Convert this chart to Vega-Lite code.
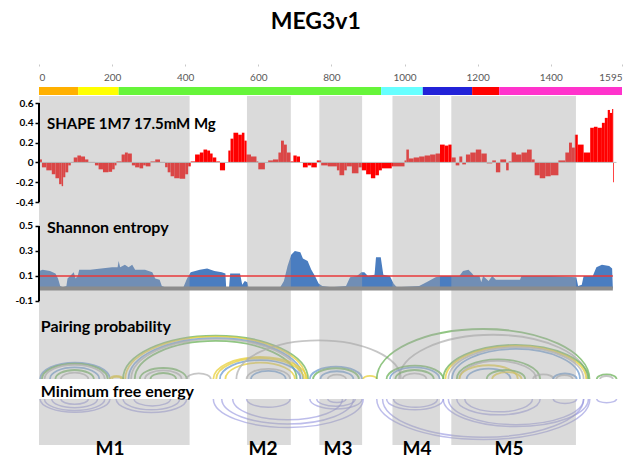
{
  "$schema": "https://vega.github.io/schema/vega-lite/v6.json",
  "background": "white",
  "padding": {"left": 9, "top": 11, "right": 5, "bottom": 0},
  "title": {"text": "MEG3v1", "font": "Lato", "fontSize": 23, "fontWeight": "bold", "color": "#000000", "anchor": "middle", "frame": "bounds", "offset": 27},
  "spacing": 0,
  "bounds": "flush",
  "config": {
    "view": {"stroke": null},
    "font": "Lato",
    "axisY": {"minExtent": 30, "maxExtent": 30, "labelOverlap": false, "zindex": 2}
  },
  "datasets": {
    "bands": [
      {"s": 0, "e": 412}, {"s": 569, "e": 689}, {"s": 767, "e": 884}, {"s": 967, "e": 1097}, {"s": 1128, "e": 1469}
    ],
    "segments": [
      {"s": 0, "e": 107, "c": "#ffb000"}, {"s": 107, "e": 218, "c": "#ffff00"}, {"s": 218, "e": 936, "c": "#66f53a"},
      {"s": 936, "e": 1050, "c": "#66ffff"}, {"s": 1050, "e": 1185, "c": "#2222d8"}, {"s": 1185, "e": 1259, "c": "#ff0000"},
      {"s": 1259, "e": 1595, "c": "#ff33cc"}
    ],
    "shape": [
      {"s":0,"e":8,"v":0.03},{"s":8,"e":20,"v":-0.05},{"s":20,"e":35,"v":-0.08},{"s":35,"e":45,"v":-0.12},{"s":45,"e":55,"v":-0.16},
      {"s":55,"e":62,"v":-0.22},{"s":62,"e":66,"v":-0.24},{"s":66,"e":72,"v":-0.15},{"s":72,"e":80,"v":-0.1},{"s":80,"e":87,"v":-0.03},
      {"s":87,"e":95,"v":0.005},{"s":95,"e":105,"v":0.05},{"s":105,"e":115,"v":0.07},{"s":115,"e":126,"v":0.06},{"s":126,"e":135,"v":0.03},
      {"s":135,"e":153,"v":0.005},{"s":153,"e":163,"v":-0.03},{"s":163,"e":175,"v":-0.07},{"s":175,"e":190,"v":-0.1},{"s":190,"e":200,"v":-0.095},
      {"s":200,"e":207,"v":-0.07},{"s":207,"e":212,"v":-0.03},{"s":212,"e":226,"v":0.01},{"s":226,"e":235,"v":0.08},{"s":235,"e":243,"v":0.1},
      {"s":243,"e":254,"v":0.09},{"s":254,"e":263,"v":-0.03},{"s":263,"e":275,"v":-0.05},{"s":275,"e":285,"v":-0.06},{"s":285,"e":292,"v":-0.03},
      {"s":292,"e":305,"v":-0.04},{"s":305,"e":318,"v":0.01},{"s":318,"e":331,"v":0.03},{"s":331,"e":345,"v":0.005},{"s":345,"e":352,"v":-0.05},
      {"s":352,"e":360,"v":-0.1},{"s":360,"e":370,"v":-0.14},{"s":370,"e":385,"v":-0.16},{"s":385,"e":400,"v":-0.165},{"s":400,"e":408,"v":-0.12},
      {"s":408,"e":415,"v":-0.04},{"s":415,"e":427,"v":0.01},{"s":427,"e":440,"v":0.08},{"s":440,"e":450,"v":0.1},{"s":450,"e":460,"v":0.13},
      {"s":460,"e":468,"v":0.12},{"s":468,"e":475,"v":0.09},{"s":475,"e":485,"v":0.05},{"s":485,"e":495,"v":0.01},{"s":495,"e":509,"v":-0.08},
      {"s":509,"e":518,"v":0.0},{"s":518,"e":524,"v":0.12},{"s":524,"e":532,"v":0.24},{"s":532,"e":545,"v":0.3},{"s":545,"e":555,"v":0.28},
      {"s":555,"e":562,"v":0.3},{"s":562,"e":568,"v":0.22},{"s":568,"e":580,"v":0.08},{"s":580,"e":595,"v":0.06},{"s":595,"e":600,"v":0.01},
      {"s":600,"e":618,"v":-0.07},{"s":618,"e":627,"v":0.0},{"s":627,"e":640,"v":0.02},{"s":640,"e":655,"v":0.03},{"s":655,"e":662,"v":0.1},
      {"s":662,"e":670,"v":0.22},{"s":670,"e":678,"v":0.18},{"s":678,"e":688,"v":0.1},{"s":688,"e":696,"v":0.01},{"s":696,"e":705,"v":0.07},
      {"s":705,"e":714,"v":0.06},{"s":714,"e":722,"v":0.0},{"s":722,"e":735,"v":-0.05},{"s":735,"e":745,"v":-0.03},{"s":745,"e":760,"v":-0.05},
      {"s":760,"e":772,"v":0.02},{"s":772,"e":790,"v":-0.03},{"s":790,"e":815,"v":-0.04},{"s":815,"e":822,"v":-0.08},{"s":822,"e":835,"v":-0.13},
      {"s":835,"e":842,"v":-0.08},{"s":842,"e":856,"v":-0.04},{"s":856,"e":874,"v":-0.11},{"s":874,"e":883,"v":-0.05},{"s":883,"e":895,"v":-0.08},
      {"s":895,"e":908,"v":-0.12},{"s":908,"e":920,"v":-0.16},{"s":920,"e":930,"v":-0.13},{"s":930,"e":938,"v":-0.08},{"s":938,"e":965,"v":-0.06},
      {"s":965,"e":1000,"v":-0.04},{"s":1000,"e":1005,"v":0.02},{"s":1005,"e":1012,"v":0.13},{"s":1012,"e":1025,"v":0.04},{"s":1025,"e":1040,"v":0.05},
      {"s":1040,"e":1055,"v":0.06},{"s":1055,"e":1070,"v":0.07},{"s":1070,"e":1085,"v":0.08},{"s":1085,"e":1097,"v":0.09},{"s":1097,"e":1110,"v":0.18},
      {"s":1110,"e":1120,"v":0.17},{"s":1120,"e":1129,"v":0.18},{"s":1129,"e":1140,"v":0.05},{"s":1140,"e":1150,"v":-0.03},{"s":1150,"e":1158,"v":0.06},
      {"s":1158,"e":1168,"v":-0.02},{"s":1168,"e":1180,"v":0.08},{"s":1180,"e":1195,"v":0.1},{"s":1195,"e":1210,"v":0.13},{"s":1210,"e":1225,"v":0.09},
      {"s":1225,"e":1240,"v":-0.01},{"s":1240,"e":1250,"v":0.02},{"s":1250,"e":1262,"v":-0.1},{"s":1262,"e":1278,"v":0.03},{"s":1278,"e":1285,"v":-0.08},
      {"s":1285,"e":1293,"v":0.01},{"s":1293,"e":1305,"v":0.1},{"s":1305,"e":1320,"v":0.08},{"s":1320,"e":1335,"v":0.1},{"s":1335,"e":1348,"v":0.13},
      {"s":1348,"e":1356,"v":0.03},{"s":1356,"e":1370,"v":-0.13},{"s":1370,"e":1385,"v":-0.16},{"s":1385,"e":1400,"v":-0.14},{"s":1400,"e":1421,"v":-0.13},
      {"s":1421,"e":1440,"v":0.02},{"s":1440,"e":1450,"v":0.1},{"s":1450,"e":1458,"v":0.2},{"s":1458,"e":1466,"v":0.15},{"s":1466,"e":1474,"v":0.28},
      {"s":1474,"e":1490,"v":0.18},{"s":1490,"e":1508,"v":0.1},{"s":1508,"e":1518,"v":0.35},{"s":1518,"e":1528,"v":0.36},{"s":1528,"e":1540,"v":0.35},
      {"s":1540,"e":1548,"v":0.4},{"s":1548,"e":1556,"v":0.45},{"s":1556,"e":1562,"v":0.53},{"s":1562,"e":1568,"v":0.5},{"s":1568,"e":1571,"v":0.54},
      {"s":1571,"e":1573,"v":-0.2}
    ],
    "entropy": [
      {"n":0,"v":0.14},{"n":10,"v":0.15},{"n":30,"v":0.14},{"n":45,"v":0.12},{"n":52,"v":0.08},{"n":58,"v":0.02},{"n":65,"v":0.01},
      {"n":75,"v":0.02},{"n":78,"v":0.08},{"n":85,"v":0.1},{"n":95,"v":0.13},{"n":100,"v":0.08},{"n":106,"v":0.1},{"n":110,"v":0.15},
      {"n":140,"v":0.15},{"n":170,"v":0.16},{"n":200,"v":0.17},{"n":215,"v":0.17},{"n":218,"v":0.22},{"n":222,"v":0.17},{"n":235,"v":0.19},
      {"n":245,"v":0.17},{"n":255,"v":0.19},{"n":263,"v":0.15},{"n":290,"v":0.15},{"n":300,"v":0.14},{"n":310,"v":0.13},{"n":318,"v":0.08},
      {"n":330,"v":0.07},{"n":336,"v":0.02},{"n":345,"v":0.01},{"n":395,"v":0.01},{"n":405,"v":0.08},{"n":415,"v":0.13},{"n":440,"v":0.15},
      {"n":460,"v":0.16},{"n":480,"v":0.14},{"n":500,"v":0.13},{"n":510,"v":0.12},{"n":512,"v":0.01},{"n":520,"v":0.01},{"n":523,"v":0.12},
      {"n":550,"v":0.12},{"n":556,"v":0.03},{"n":563,"v":0.06},{"n":570,"v":0.05},{"n":573,"v":0.01},{"n":660,"v":0.01},{"n":670,"v":0.06},
      {"n":680,"v":0.18},{"n":690,"v":0.27},{"n":700,"v":0.3},{"n":715,"v":0.29},{"n":722,"v":0.24},{"n":735,"v":0.22},{"n":745,"v":0.15},
      {"n":755,"v":0.1},{"n":765,"v":0.04},{"n":775,"v":0.02},{"n":800,"v":0.01},{"n":840,"v":0.02},{"n":851,"v":0.09},{"n":870,"v":0.1},
      {"n":882,"v":0.13},{"n":890,"v":0.13},{"n":900,"v":0.1},{"n":918,"v":0.11},{"n":922,"v":0.25},{"n":935,"v":0.25},{"n":942,"v":0.11},
      {"n":960,"v":0.1},{"n":970,"v":0.04},{"n":979,"v":0.01},{"n":1040,"v":0.02},{"n":1060,"v":0.05},{"n":1085,"v":0.09},{"n":1100,"v":0.1},
      {"n":1150,"v":0.1},{"n":1160,"v":0.14},{"n":1175,"v":0.15},{"n":1185,"v":0.12},{"n":1190,"v":0.1},{"n":1205,"v":0.1},{"n":1210,"v":0.05},
      {"n":1215,"v":0.1},{"n":1230,"v":0.06},{"n":1240,"v":0.1},{"n":1250,"v":0.07},{"n":1316,"v":0.07},{"n":1320,"v":0.1},{"n":1400,"v":0.1},
      {"n":1470,"v":0.09},{"n":1475,"v":0.02},{"n":1485,"v":0.03},{"n":1490,"v":0.1},{"n":1515,"v":0.1},{"n":1525,"v":0.17},{"n":1540,"v":0.19},
      {"n":1560,"v":0.18},{"n":1568,"v":0.16},{"n":1570,"v":0.0}
    ],
    "entropyTicks": [
      {"v": -0.1, "l": "-0.1"}, {"v": 0.1, "l": "0.1"}, {"v": 0.3, "l": "0.3"}, {"v": 0.5, "l": "0.5"}
    ],
    "pairs": [
      {"m":98.5,"w":191,"p":"0.3-0.8"},{"m":98,"w":180,"p":">0.8"},{"m":97.5,"w":165,"p":"<0.1"},{"m":97.5,"w":135,"p":"0.3-0.8"},
      {"m":97.5,"w":105,"p":">0.8"},{"m":97.5,"w":75,"p":"<0.1"},{"m":212,"w":36,"p":"0.1-0.3"},{"m":212.5,"w":25,"p":"0.1-0.3"},
      {"m":483,"w":506,"p":">0.8"},{"m":483,"w":494,"p":"0.1-0.3"},{"m":483.5,"w":477,"p":"0.3-0.8"},{"m":484,"w":464,"p":"<0.1"},
      {"m":483.5,"w":443,"p":">0.8"},{"m":340,"w":128,"p":">0.8"},{"m":340,"w":100,"p":"<0.1"},{"m":340,"w":70,"p":">0.8"},
      {"m":437,"w":66,"p":"<0.1"},{"m":605,"w":256,"p":"0.1-0.3"},{"m":605,"w":240,"p":"0.1-0.3"},{"m":605,"w":220,"p":"0.3-0.8"},
      {"m":605,"w":190,"p":"0.1-0.3"},{"m":627.5,"w":119,"p":"<0.1"},{"m":627.5,"w":95,"p":"0.3-0.8"},{"m":765,"w":450,"p":"<0.1"},
      {"m":812.5,"w":143,"p":"0.3-0.8"},{"m":812.5,"w":125,"p":">0.8"},{"m":815,"w":90,"p":"0.3-0.8"},{"m":815,"w":50,"p":"<0.1"},
      {"m":905.5,"w":37,"p":"0.1-0.3"},{"m":1215,"w":582,"p":">0.8"},{"m":1242.5,"w":515,"p":"<0.1"},{"m":1028.5,"w":155,"p":">0.8"},
      {"m":1028,"w":136,"p":"0.3-0.8"},{"m":1027.5,"w":105,"p":">0.8"},{"m":1027.5,"w":65,"p":"<0.1"},{"m":1304.5,"w":397,"p":">0.8"},
      {"m":1304.5,"w":385,"p":"0.1-0.3"},{"m":1305,"w":370,"p":"<0.1"},{"m":1305,"w":350,"p":"0.3-0.8"},{"m":1257,"w":228,"p":">0.8"},
      {"m":1255,"w":210,"p":"<0.1"},{"m":1230,"w":160,"p":"0.1-0.3"},{"m":1230,"w":120,"p":"0.3-0.8"},{"m":1277.5,"w":105,"p":">0.8"},
      {"m":1280,"w":80,"p":"0.1-0.3"},{"m":1379.5,"w":55,"p":"<0.1"},{"m":1439,"w":64,"p":"0.3-0.8"},{"m":1437.5,"w":45,"p":"<0.1"},
      {"m":1553,"w":54,"p":">0.8"},{"m":1552.5,"w":35,"p":"<0.1"}
    ],
    "mfe": [
      {"m":98.5,"w":191},{"m":97.5,"w":165},{"m":97.5,"w":125},{"m":97.5,"w":75},{"m":307.5,"w":193},{"m":307.5,"w":155},{"m":310,"w":100},
      {"m":682,"w":410},{"m":680,"w":360},{"m":680,"w":300},{"m":627.5,"w":119},{"m":812.5,"w":143},{"m":812.5,"w":105},{"m":815,"w":50},
      {"m":1215.5,"w":583},{"m":1215,"w":550},{"m":1028.5,"w":155},{"m":1030,"w":120},{"m":1304.5,"w":397},{"m":1305,"w":370},
      {"m":1257,"w":228},{"m":1257.5,"w":185},{"m":1439,"w":64},{"m":1553,"w":54}
    ],
    "motifs": [
      {"s":194,"t":"M1"},{"s":613,"t":"M2"},{"s":818,"t":"M3"},{"s":1034,"t":"M4"},{"s":1286,"t":"M5"}
    ]
  },
  "vconcat": [
    {
      "width": 583, "height": 35,
      "data": {"name": "segments"},
      "mark": {"type": "rect"},
      "encoding": {
        "x": {"field": "s", "type": "quantitative", "scale": {"domain": [0, 1595], "nice": false, "zero": false},
          "axis": {"orient": "bottom", "offset": -32, "values": [0,200,400,600,800,1000,1200,1400,1595], "tickCount": 20, "format": "d",
            "domain": false, "grid": false, "tickSize": 2, "tickColor": "#c8c8c8", "labelPadding": 6, "labelFont": "Lato",
            "labelFontSize": 10, "labelColor": "#595959", "labelFlush": true, "labelOverlap": false, "title": null}},
        "x2": {"field": "e"},
        "y": {"datum": 1, "type": "quantitative", "scale": {"domain": [0, 35], "nice": false, "zero": false}, "axis": null},
        "y2": {"datum": 9},
        "color": {"field": "c", "type": "nominal", "scale": null}
      }
    },
    {
      "width": 583, "height": 117,
      "layer": [
        {
          "data": {"name": "shape"},
          "mark": {"type": "rect", "color": "#ff0000"},
          "encoding": {
            "x": {"field": "s", "type": "quantitative", "scale": {"domain": [0, 1595], "nice": false, "zero": false}, "axis": null},
            "x2": {"field": "e"},
            "y": {"field": "v", "type": "quantitative", "scale": {"domain": [-0.511, 0.671], "nice": false, "zero": false},
              "axis": {"values": [-0.4,-0.2,0,0.2,0.4,0.6], "tickCount": 12, "domain": false, "grid": false, "tickColor": "#000000", "tickSize": 4,
                "tickWidth": 1.5, "labelFont": "Lato", "labelFontSize": 10, "labelFontWeight": "bold", "labelColor": "#000000",
                "labelPadding": 2, "labelOverlap": false, "labelExpr": "replace(format(datum.value, '.1~f'), '\u2212', '-')", "title": null}},
            "y2": {"datum": 0}
          }
        },
        {
          "data": {"values": [{"v": 0, "a": 0, "b": 1580}]},
          "mark": {"type": "rule", "color": "#c0c0c0", "strokeWidth": 1},
          "encoding": {"x": {"field": "a", "type": "quantitative"}, "x2": {"field": "b"}, "y": {"field": "v", "type": "quantitative"}}
        },
        {
          "data": {"name": "bands"},
          "mark": {"type": "rect", "color": "#a6a6a6", "opacity": 0.42},
          "encoding": {"x": {"field": "s", "type": "quantitative"}, "x2": {"field": "e"}}
        },
        {
          "data": {"values": [{"a": 0, "lo": -0.4, "hi": 0.6}]},
          "mark": {"type": "rule", "color": "#000000", "strokeWidth": 2},
          "encoding": {"x": {"field": "a", "type": "quantitative"}, "y": {"field": "lo", "type": "quantitative"}, "y2": {"field": "hi"}}
        },
        {
          "data": {"values": [{"t": "SHAPE 1M7 17.5mM Mg", "x": 22, "y": 0.337}]},
          "mark": {"type": "text", "align": "left", "baseline": "alphabetic", "font": "Lato", "fontSize": 15, "fontWeight": "bold", "color": "#000000"},
          "encoding": {"x": {"field": "x", "type": "quantitative"}, "y": {"field": "y", "type": "quantitative"}, "text": {"field": "t"}}
        }
      ]
    },
    {
      "width": 583, "height": 93,
      "layer": [
        {
          "data": {"name": "entropy"},
          "mark": {"type": "area", "color": "#4a7dc0", "interpolate": "linear"},
          "encoding": {
            "x": {"field": "n", "type": "quantitative", "scale": {"domain": [0, 1595], "nice": false, "zero": false}, "axis": null},
            "y": {"field": "v", "type": "quantitative", "scale": {"domain": [-0.14, 0.604], "nice": false, "zero": false},
              "axis": {"values": [-0.1, 0.1, 0.3, 0.5], "tickCount": 20, "domain": false, "grid": false, "tickColor": "#000000", "tickSize": 4,
                "tickWidth": 1.5, "labels": false, "title": null}},
            "y2": {"datum": 0}
          }
        },
        {
          "data": {"name": "bands"},
          "mark": {"type": "rect", "color": "#a6a6a6", "opacity": 0.42},
          "encoding": {"x": {"field": "s", "type": "quantitative"}, "x2": {"field": "e"}}
        },
        {
          "data": {"values": [{"v": 0, "a": 0, "b": 1570}]},
          "mark": {"type": "rule", "color": "#8c8c8c", "strokeWidth": 4},
          "encoding": {"x": {"field": "a", "type": "quantitative"}, "x2": {"field": "b"}, "y": {"field": "v", "type": "quantitative"}}
        },
        {
          "data": {"values": [{"v": 0.1, "a": 0, "b": 1570}]},
          "mark": {"type": "rule", "color": "#e8383a", "strokeWidth": 1.5},
          "encoding": {"x": {"field": "a", "type": "quantitative"}, "x2": {"field": "b"}, "y": {"field": "v", "type": "quantitative"}}
        },
        {
          "data": {"values": [{"a": 0, "lo": -0.1, "hi": 0.5}]},
          "mark": {"type": "rule", "color": "#000000", "strokeWidth": 2},
          "encoding": {"x": {"field": "a", "type": "quantitative"}, "y": {"field": "lo", "type": "quantitative"}, "y2": {"field": "hi"}}
        },
        {
          "data": {"name": "entropyTicks"},
          "mark": {"type": "text", "align": "right", "baseline": "middle", "font": "Lato", "fontSize": 10, "fontWeight": "bold", "color": "#000000"},
          "encoding": {"x": {"datum": -16, "type": "quantitative"}, "y": {"field": "v", "type": "quantitative"}, "text": {"field": "l"}}
        },
        {
          "data": {"values": [{"t": "Shannon entropy", "x": 22, "y": 0.444}]},
          "mark": {"type": "text", "align": "left", "baseline": "alphabetic", "font": "Lato", "fontSize": 16, "fontWeight": "bold", "color": "#000000"},
          "encoding": {"x": {"field": "x", "type": "quantitative"}, "y": {"field": "y", "type": "quantitative"}, "text": {"field": "t"}}
        }
      ]
    },
    {
      "width": 583, "height": 73,
      "layer": [
        {
          "data": {"name": "pairs"},
          "mark": {"type": "point", "shape": "M-1,0 C-1,-0.26 -0.552,-0.47 0,-0.47 C0.552,-0.47 1,-0.26 1,0", "filled": false, "strokeWidth": 1.8, "opacity": 0.75},
          "encoding": {
            "x": {"field": "m", "type": "quantitative", "scale": {"domain": [0, 1595], "nice": false, "zero": false}, "axis": null},
            "y": {"datum": 0, "type": "quantitative", "scale": {"domain": [0, 73], "nice": false, "zero": false}, "axis": null},
            "size": {"field": "w", "type": "quantitative", "scale": {"type": "pow", "exponent": 2, "domain": [0, 1595], "range": [0, 339889], "zero": true}, "legend": null},
            "color": {"field": "p", "type": "nominal", "scale": {"domain": [">0.8", "0.3-0.8", "0.1-0.3", "<0.1"], "range": ["#6db35a", "#6c9bd2", "#e8d03a", "#b4b4b4"]}, "legend": null}
          }
        },
        {
          "data": {"name": "bands"},
          "mark": {"type": "rect", "color": "#a6a6a6", "opacity": 0.42},
          "encoding": {"x": {"field": "s", "type": "quantitative"}, "x2": {"field": "e"}}
        },
        {
          "data": {"values": [{"t": "Pairing probability", "x": 5, "y": 47}]},
          "mark": {"type": "text", "align": "left", "baseline": "alphabetic", "font": "Lato", "fontSize": 16, "fontWeight": "bold", "color": "#000000"},
          "encoding": {"x": {"field": "x", "type": "quantitative"}, "y": {"field": "y", "type": "quantitative"}, "text": {"field": "t"}}
        }
      ]
    },
    {
      "width": 583, "height": 20,
      "data": {"values": [{"t": "Minimum free energy", "x": 5, "y": 2}]},
      "mark": {"type": "text", "align": "left", "baseline": "alphabetic", "font": "Lato", "fontSize": 16, "fontWeight": "bold", "color": "#000000"},
      "encoding": {
        "x": {"field": "x", "type": "quantitative", "scale": {"domain": [0, 1595], "nice": false, "zero": false}, "axis": null},
        "y": {"field": "y", "type": "quantitative", "scale": {"domain": [0, 20], "nice": false, "zero": false}, "axis": null},
        "text": {"field": "t"}
      }
    },
    {
      "width": 583, "height": 46,
      "layer": [
        {
          "data": {"name": "mfe"},
          "mark": {"type": "point", "shape": "M-1,0 C-1,0.21 -0.552,0.38 0,0.38 C0.552,0.38 1,0.21 1,0", "filled": false, "strokeWidth": 1.5, "opacity": 0.6, "color": "#9292de"},
          "encoding": {
            "x": {"field": "m", "type": "quantitative", "scale": {"domain": [0, 1595], "nice": false, "zero": false}, "axis": null},
            "y": {"datum": 0, "type": "quantitative", "scale": {"domain": [-46, 0], "nice": false, "zero": false}, "axis": null},
            "size": {"field": "w", "type": "quantitative", "scale": {"type": "pow", "exponent": 2, "domain": [0, 1595], "range": [0, 339889], "zero": true}, "legend": null}
          }
        },
        {
          "data": {"name": "bands"},
          "mark": {"type": "rect", "color": "#a6a6a6", "opacity": 0.42},
          "encoding": {"x": {"field": "s", "type": "quantitative"}, "x2": {"field": "e"}}
        }
      ]
    },
    {
      "width": 583, "height": 17,
      "data": {"name": "motifs"},
      "mark": {"type": "text", "font": "Lato", "fontSize": 19, "fontWeight": "bold", "color": "#000000", "baseline": "alphabetic"},
      "encoding": {
        "x": {"field": "s", "type": "quantitative", "scale": {"domain": [0, 1595], "nice": false, "zero": false}, "axis": null},
        "y": {"datum": 7, "type": "quantitative", "scale": {"domain": [0, 17], "nice": false, "zero": false}, "axis": null},
        "text": {"field": "t"}
      }
    }
  ]
}
